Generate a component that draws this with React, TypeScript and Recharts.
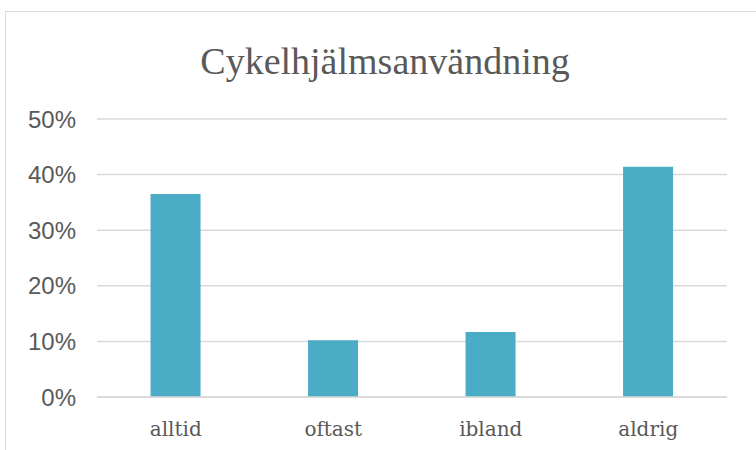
import { BarChart, Bar, XAxis, YAxis, CartesianGrid } from 'recharts';

// Cykelhjälmsanvändning – share of respondents per answer
const categories = ['alltid', 'oftast', 'ibland', 'aldrig'];
const shares = [0.365, 0.102, 0.117, 0.414];
const yTicks = [0, 0.1, 0.2, 0.3, 0.4, 0.5];

const data = categories.map((answer, i) => ({ answer, share: shares[i] }));

const TEXT = '#595959';

export default function App() {
    return (
        <div style={{ position: 'absolute', left: 0, top: 0, width: 756, height: 450, background: '#fff', overflow: 'hidden' }}>
            <div
                style={{
                    position: 'absolute',
                    left: 5,
                    top: 11,
                    width: 800,
                    height: 500,
                    border: '1.5px solid #d9d9d9',
                }}
            />
            <div
                style={{
                    position: 'absolute',
                    left: 0,
                    top: 36,
                    width: 770,
                    textAlign: 'center',
                    fontFamily: '"Liberation Serif", serif',
                    fontSize: 38,
                    color: TEXT,
                    lineHeight: '50px',
                }}
            >
                Cykelhjälmsanvändning
            </div>
            <BarChart
                width={756}
                height={450}
                data={data}
                margin={{ top: 119, right: 29, left: 17, bottom: 23 }}
                barCategoryGap="34%"
                style={{ position: 'absolute', left: 0, top: 0 }}
            >
                <CartesianGrid vertical={false} stroke="#d9d9d9" strokeWidth={1.5} />
                <XAxis
                    dataKey="answer"
                    height={30}
                    axisLine={{ stroke: '#d9d9d9', strokeWidth: 1.5 }}
                    tickLine={false}
                    tickMargin={19}
                    tick={{ fill: TEXT, fontSize: 20, fontFamily: '"DejaVu Serif", serif' }}
                />
                <YAxis
                    width={80}
                    domain={[0, 0.5]}
                    ticks={yTicks}
                    axisLine={false}
                    tickLine={false}
                    tickMargin={15}
                    tickFormatter={(v: number) => `${Math.round(v * 100)}%`}
                    tick={{ fill: TEXT, fontSize: 24, fontFamily: '"Liberation Sans", Arial, sans-serif' }}
                />
                <Bar dataKey="share" fill="#4bacc6" isAnimationActive={false} />
            </BarChart>
        </div>
    );
}
